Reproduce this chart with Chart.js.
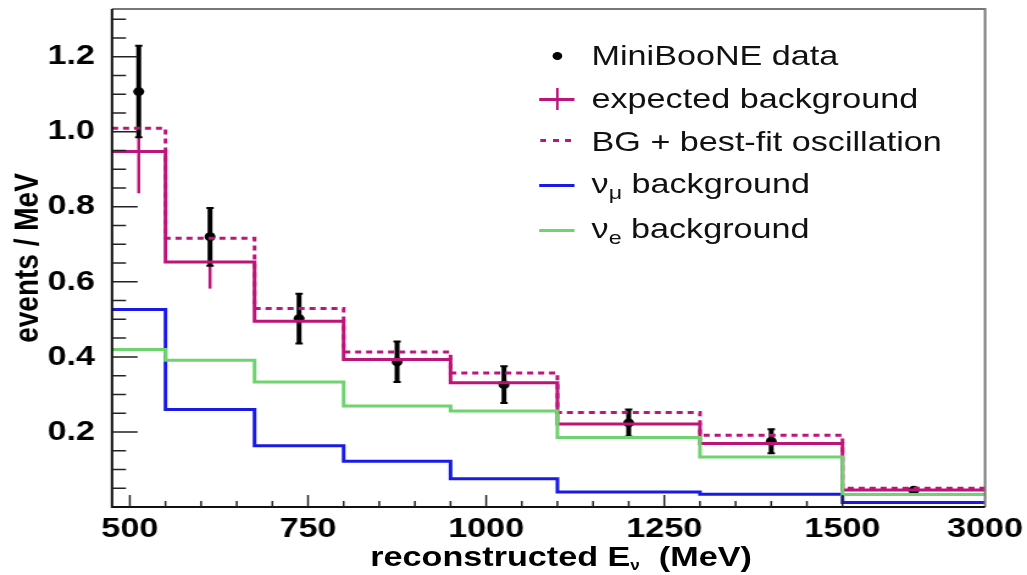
<!DOCTYPE html>
<html>
<head>
<meta charset="utf-8">
<script src="https://cdn.jsdelivr.net/npm/chart.js@4.4.1/dist/chart.umd.min.js"></script>
<style>
  body { margin: 0; background: #fff; overflow: hidden; }
  /* the reference figure is stretched sideways, so the whole drawing is too */
  #wrap {
    position: relative; width: 842px; height: 575px;
    transform: scaleX(1.2197); transform-origin: 0 0;
    font-family: 'Liberation Sans', Arial, sans-serif; color: #111;
  }
  #chart { position: absolute; left: 0; top: 0; }
  .row { position: absolute; left: 485px; height: 44px; line-height: 44px; font-size: 28px; white-space: nowrap; }
  .row sub { font-size: 0.68em; vertical-align: -0.32em; line-height: 0; }
  .sym { position: absolute; }
  #xtitle {
    position: absolute; left: 160px; width: 600px; top: 540px; height: 34px; line-height: 34px;
    text-align: center; font-size: 28px; font-weight: bold; color: #000; white-space: nowrap;
  }
  #xtitle sub { font-size: 0.5em; vertical-align: -0.3em; line-height: 0; }
</style>
</head>
<body>
<div id="wrap">
  <canvas id="chart" width="842" height="575"></canvas>

  <span class="sym" style="left:452.5px;top:52px;width:8px;height:8px;border-radius:50%;background:#000"></span>
  <div class="row" style="top:34px">MiniBooNE data</div>

  <span class="sym" style="left:442px;top:97.5px;width:29px;height:3px;background:#bc1478"></span>
  <span class="sym" style="left:455.5px;top:88px;width:2.5px;height:22px;background:#bc1478"></span>
  <div class="row" style="top:77px">expected background</div>

  <span class="sym" style="left:443px;top:139px;width:28px;height:2.5px;background:repeating-linear-gradient(to right,#bc1478 0 5px,transparent 5px 10px)"></span>
  <div class="row" style="top:120px">BG + best-fit oscillation</div>

  <span class="sym" style="left:442px;top:184px;width:29px;height:3px;background:#1a1ae6"></span>
  <div class="row" style="top:162px">ν<sub>μ</sub> background</div>

  <span class="sym" style="left:442px;top:229px;width:29px;height:3px;background:#6fd36f"></span>
  <div class="row" style="top:207px">ν<sub>e</sub> background</div>

  <div id="xtitle">reconstructed E<sub>ν</sub>&nbsp;&nbsp;(MeV)</div>
</div>
<script>
const binEdges = [475, 550, 675, 800, 950, 1100, 1300, 1500, 3000];
const dataValues = [1.107, 0.72, 0.502, 0.387, 0.326, 0.224, 0.175, 0.0445];
const dataErrors = [0.122, 0.077, 0.066, 0.054, 0.049, 0.036, 0.032, 0.006];
const expectedBg = [0.947, 0.653, 0.495, 0.393, 0.331, 0.221, 0.169, 0.045];
const bgErrors = [0.111, 0.071, 0.05, 0.04, 0.03, 0.02, 0.017, 0.005];
const bgPlusOsc = [1.009, 0.716, 0.529, 0.413, 0.357, 0.252, 0.191, 0.05];
const nuMuBg = [0.526, 0.26, 0.163, 0.122, 0.075, 0.04, 0.034, 0.012];
const nueBg = [0.42, 0.391, 0.333, 0.269, 0.256, 0.185, 0.133, 0.033];
const xTickValues = [500, 750, 1000, 1250, 1500, 3000];
const yTickValues = [0.2, 0.4, 0.6, 0.8, 1.0, 1.2];

const MAGENTA = '#bc1478';
const FONT = "'Liberation Sans', Arial, sans-serif";

// last bin (1500-3000) is squeezed on the axis to the width of 200 MeV
function toAxis(e) {
  return e <= 1500 ? e : 1500 + (e - 1500) * 200 / 1500;
}
function fromAxis(v) {
  return v <= 1500 ? v : 1500 + (v - 1500) * 1500 / 200;
}

function histPoints(values) {
  const pts = values.map((v, i) => ({ x: toAxis(binEdges[i]), y: v }));
  pts.push({ x: toAxis(binEdges[binEdges.length - 1]), y: values[values.length - 1] });
  return pts;
}

const binCenters = dataValues.map((_, i) => (binEdges[i] + binEdges[i + 1]) / 2);

function histDataset(values, color, dash) {
  return {
    type: 'line',
    data: histPoints(values),
    borderColor: color,
    borderWidth: 3,
    borderDash: dash || [],
    stepped: 'before',
    pointRadius: 0,
    fill: false,
  };
}

const DATA_INDEX = 4;

const errorBars = {
  id: 'errorBars',
  beforeDatasetDraw(chart, args) {
    if (args.index !== DATA_INDEX) return;
    const { ctx, scales: { x, y } } = chart;
    ctx.save();
    binCenters.forEach((c, i) => {
      const px = x.getPixelForValue(toAxis(c));
      ctx.strokeStyle = MAGENTA;
      ctx.lineWidth = 2.5;
      ctx.beginPath();
      ctx.moveTo(px, y.getPixelForValue(expectedBg[i] - bgErrors[i]));
      ctx.lineTo(px, y.getPixelForValue(expectedBg[i] + bgErrors[i]));
      ctx.stroke();

      const lo = y.getPixelForValue(dataValues[i] - dataErrors[i]);
      const hi = y.getPixelForValue(dataValues[i] + dataErrors[i]);
      ctx.strokeStyle = '#000';
      ctx.lineWidth = 4;
      ctx.beginPath();
      ctx.moveTo(px, lo);
      ctx.lineTo(px, hi);
      ctx.stroke();
      ctx.lineWidth = 2;
      ctx.beginPath();
      ctx.moveTo(px - 3, lo); ctx.lineTo(px + 3, lo);
      ctx.moveTo(px - 3, hi); ctx.lineTo(px + 3, hi);
      ctx.stroke();
    });
    ctx.restore();
  },
};

const frame = {
  id: 'frame',
  afterDraw(chart) {
    const { ctx, chartArea: a, scales: { x, y } } = chart;
    ctx.save();
    ctx.lineWidth = 2;
    ctx.strokeStyle = '#777';
    ctx.beginPath();
    ctx.moveTo(a.left, a.top);
    ctx.lineTo(a.right, a.top);
    ctx.lineTo(a.right, a.bottom);
    ctx.stroke();
    ctx.strokeStyle = '#111';
    ctx.beginPath();
    ctx.moveTo(a.left, a.top);
    ctx.lineTo(a.left, a.bottom);
    ctx.lineTo(a.right, a.bottom);
    ctx.stroke();

    // ROOT style ticks, pointing inward
    ctx.lineWidth = 1.5;
    ctx.strokeStyle = '#222';
    ctx.beginPath();
    for (let e = 500; e <= 1500; e += 50) {
      const px = x.getPixelForValue(toAxis(e));
      const len = e % 250 === 0 ? 12 : 6;
      ctx.moveTo(px, a.bottom);
      ctx.lineTo(px, a.bottom - len);
    }
    for (let k = 1; k <= 26; k++) {
      const py = y.getPixelForValue(k * 0.05);
      const len = k % 4 === 0 ? 21 : 11.5;
      ctx.moveTo(a.left, py);
      ctx.lineTo(a.left + len, py);
    }
    ctx.stroke();
    ctx.restore();
  },
};

new Chart(document.getElementById('chart'), {
  data: {
    datasets: [
      histDataset(nueBg, '#6fd36f'),
      histDataset(nuMuBg, '#1a1ae6'),
      histDataset(bgPlusOsc, MAGENTA, [5, 4]),
      histDataset(expectedBg, MAGENTA),
      {
        type: 'scatter',
        data: binCenters.map((c, i) => ({ x: toAxis(c), y: dataValues[i] })),
        pointRadius: 4.5,
        pointBackgroundColor: '#000',
        pointBorderWidth: 0,
      },
    ],
  },
  options: {
    responsive: false,
    animation: false,
    devicePixelRatio: 1,
    layout: { padding: { top: 9, right: 34.4, left: 0, bottom: 0 } },
    plugins: { legend: { display: false }, tooltip: { enabled: false } },
    scales: {
      x: {
        type: 'linear',
        min: 475,
        max: 1700,
        grid: { display: false },
        border: { display: false },
        afterBuildTicks: (scale) => {
          scale.ticks = xTickValues.map((v) => ({ value: toAxis(v) }));
        },
        afterFit: (scale) => {
          scale.height = 68;
          scale.paddingLeft = 0;
          scale.paddingRight = 0;
        },
        ticks: {
          autoSkip: false,
          maxRotation: 0,
          padding: -3,
          color: '#000',
          font: { family: FONT, size: 28, weight: 'bold' },
          callback: (v) => String(Math.round(fromAxis(v))),
        },
      },
      y: {
        type: 'linear',
        min: 0,
        max: 1.327,
        grid: { display: false },
        border: { display: false },
        afterBuildTicks: (scale) => {
          scale.ticks = yTickValues.map((v) => ({ value: v }));
        },
        afterFit: (scale) => {
          scale.width = 91.83;
          scale.paddingTop = 0;
          scale.paddingBottom = 0;
        },
        ticks: {
          padding: 6,
          color: '#000',
          font: { family: FONT, size: 28, weight: 'bold' },
          callback: (v) => v.toFixed(1),
        },
        title: {
          display: true,
          text: 'events / MeV',
          color: '#000',
          padding: { top: 6, bottom: 0 },
          font: { family: FONT, size: 28, weight: 'bold' },
        },
      },
    },
  },
  plugins: [errorBars, frame],
});
</script>
</body>
</html>
